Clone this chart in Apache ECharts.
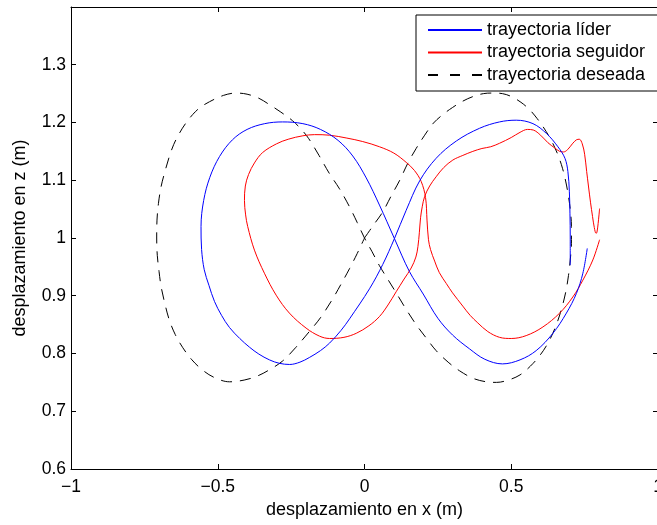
<!DOCTYPE html>
<html>
<head>
<meta charset="utf-8">
<script src="https://cdn.jsdelivr.net/npm/echarts@6/dist/echarts.min.js"></script>
<style>html,body{margin:0;padding:0;background:#fff;overflow:hidden}#c{width:690px;height:525px}</style>
</head>
<body>
<div id="c"></div>
<script>
// ---- data ----
const seriesNames = ['trayectoria líder', 'trayectoria seguidor', 'trayectoria deseada'];
const xTicks = [-1, -0.5, 0, 0.5, 1];
const zTicks = [0.6, 0.7, 0.8, 0.9, 1, 1.1, 1.2, 1.3, 1.4];

const liderX = [0.759, 0.744, 0.722, 0.688, 0.642, 0.585, 0.53, 0.47, 0.41, 0.358, 0.30, 0.25, 0.20, 0.153, 0.102, 0.051, 0.006, -0.04, -0.09, -0.15, -0.21, -0.279, -0.34, -0.40, -0.45, -0.494, -0.527, -0.548, -0.557, -0.555, -0.546, -0.53, -0.511, -0.487, -0.46, -0.425, -0.392, -0.36, -0.324, -0.29, -0.255, -0.22, -0.188, -0.15, -0.119, -0.08, -0.051, 0.017, 0.062, 0.102, 0.142, 0.188, 0.244, 0.313, 0.392, 0.46, 0.517, 0.574, 0.62, 0.659, 0.683, 0.693, 0.698, 0.700, 0.701, 0.701];
const liderZ = [0.982, 0.939, 0.904, 0.870, 0.835, 0.805, 0.789, 0.782, 0.790, 0.808, 0.832, 0.861, 0.903, 0.942, 0.999, 1.057, 1.104, 1.142, 1.169, 1.188, 1.198, 1.201, 1.198, 1.188, 1.170, 1.141, 1.105, 1.065, 1.020, 0.980, 0.945, 0.918, 0.890, 0.866, 0.845, 0.826, 0.811, 0.799, 0.789, 0.783, 0.781, 0.785, 0.793, 0.805, 0.818, 0.840, 0.860, 0.912, 0.954, 0.999, 1.048, 1.099, 1.138, 1.168, 1.190, 1.201, 1.204, 1.198, 1.181, 1.158, 1.138, 1.115, 1.080, 1.043, 1.000, 0.953];

const seguidorX = [0.801, 0.778, 0.744, 0.710, 0.665, 0.608, 0.551, 0.50, 0.46, 0.42, 0.386, 0.36, 0.335, 0.30, 0.279, 0.255, 0.239, 0.225, 0.218, 0.213, 0.208, 0.193, 0.17, 0.142, 0.10, 0.051, -0.006, -0.06, -0.119, -0.17, -0.21, -0.26, -0.30, -0.347, -0.375, -0.395, -0.406, -0.409, -0.405, -0.398, -0.375, -0.341, -0.301, -0.256, -0.199, -0.153, -0.119, -0.07, -0.028, 0.015, 0.051, 0.08, 0.108, 0.135, 0.159, 0.175, 0.182, 0.187, 0.191, 0.197, 0.205, 0.222, 0.244, 0.27, 0.301, 0.335, 0.369, 0.40, 0.43, 0.46, 0.50, 0.53, 0.555, 0.575, 0.60, 0.625, 0.648, 0.665, 0.678, 0.692, 0.708, 0.722, 0.732, 0.742, 0.75, 0.757, 0.763, 0.770, 0.777, 0.783, 0.789, 0.792, 0.796, 0.799, 0.801];
const seguidorZ = [0.997, 0.962, 0.927, 0.898, 0.870, 0.846, 0.831, 0.826, 0.828, 0.838, 0.853, 0.866, 0.882, 0.905, 0.921, 0.940, 0.960, 0.980, 0.997, 1.031, 1.070, 1.098, 1.117, 1.131, 1.147, 1.158, 1.167, 1.173, 1.178, 1.179, 1.177, 1.171, 1.163, 1.148, 1.130, 1.110, 1.090, 1.065, 1.040, 1.020, 0.979, 0.939, 0.901, 0.870, 0.844, 0.830, 0.826, 0.828, 0.835, 0.848, 0.864, 0.884, 0.907, 0.929, 0.948, 0.967, 0.985, 1.010, 1.035, 1.055, 1.072, 1.090, 1.106, 1.122, 1.135, 1.143, 1.150, 1.155, 1.158, 1.164, 1.174, 1.183, 1.188, 1.187, 1.178, 1.165, 1.156, 1.150, 1.149, 1.153, 1.163, 1.170, 1.171, 1.163, 1.145, 1.115, 1.090, 1.062, 1.037, 1.018, 1.008, 1.010, 1.025, 1.040, 1.051];

const deseadaX = [0, 0.03, 0.062, 0.09, 0.12, 0.148, 0.176, 0.205, 0.235, 0.27, 0.30, 0.335, 0.37, 0.405, 0.437, 0.47, 0.50, 0.533, 0.563, 0.588, 0.608, 0.63, 0.648, 0.662, 0.675, 0.686, 0.695, 0.702, 0.705, 0.705, 0.701, 0.695, 0.685, 0.67, 0.65, 0.625, 0.598, 0.565, 0.53, 0.49, 0.45, 0.415, 0.37, 0.324, 0.285, 0.244, 0.21, 0.176, 0.14, 0.108, 0.08, 0.051, 0.025, 0, -0.025, -0.051, -0.085, -0.12, -0.155, -0.19, -0.215, -0.245, -0.285, -0.324, -0.36, -0.40, -0.438, -0.48, -0.528, -0.56, -0.585, -0.61, -0.631, -0.65, -0.665, -0.68, -0.693, -0.702, -0.707, -0.708, -0.706, -0.70, -0.693, -0.68, -0.665, -0.645, -0.619, -0.588, -0.551, -0.51, -0.46, -0.41, -0.365, -0.32, -0.279, -0.235, -0.188, -0.15, -0.108, -0.08, -0.051, -0.025, 0];
const deseadaZ = [1.0, 1.022, 1.045, 1.072, 1.10, 1.13, 1.155, 1.178, 1.199, 1.215, 1.226, 1.237, 1.245, 1.25, 1.251, 1.25, 1.245, 1.235, 1.222, 1.207, 1.193, 1.175, 1.157, 1.14, 1.12, 1.097, 1.072, 1.045, 1.02, 0.99, 0.962, 0.935, 0.905, 0.875, 0.845, 0.818, 0.797, 0.778, 0.763, 0.754, 0.75, 0.751, 0.757, 0.770, 0.785, 0.805, 0.827, 0.85, 0.878, 0.905, 0.928, 0.952, 0.977, 1.0, 1.027, 1.054, 1.085, 1.112, 1.143, 1.172, 1.188, 1.203, 1.218, 1.231, 1.242, 1.249, 1.251, 1.247, 1.236, 1.226, 1.214, 1.198, 1.181, 1.162, 1.141, 1.115, 1.089, 1.06, 1.031, 1.0, 0.97, 0.942, 0.916, 0.886, 0.858, 0.833, 0.81, 0.789, 0.771, 0.758, 0.751, 0.754, 0.761, 0.773, 0.787, 0.81, 0.838, 0.862, 0.895, 0.92, 0.947, 0.973, 1.0];

// ---- build ----
const zip = (a, b) => a.map((v, i) => [v, b[i]]);
const FONT = 'Liberation Sans, Arial, Helvetica, sans-serif';
const fmt = v => (Math.round(v * 10) / 10).toString().replace('-', '\u2212');

const axisCommon = {
  type: 'value',
  axisLine: { show: true, onZero: false, lineStyle: { color: '#000', width: 1 } },
  axisTick: { show: true, inside: true, length: 5, lineStyle: { color: '#000', width: 1 } },
  splitLine: { show: false }
};

const chart = echarts.init(document.getElementById('c'), null, { renderer: 'canvas' });
chart.setOption({
  animation: false,
  backgroundColor: '#fff',
  grid: { left: 71, top: 7, width: 587, height: 462, containLabel: false },
  xAxis: [
    Object.assign({}, axisCommon, {
      position: 'bottom', min: xTicks[0], max: xTicks[xTicks.length - 1], interval: 0.5,
      axisLabel: { color: '#000', fontSize: 17.5, fontFamily: FONT, margin: 9, formatter: fmt, showMaxLabel: true },
      name: 'desplazamiento en x (m)', nameLocation: 'middle', nameGap: 29,
      nameTextStyle: { color: '#000', fontSize: 18, fontFamily: FONT }
    }),
    Object.assign({}, axisCommon, {
      position: 'top', min: xTicks[0], max: xTicks[xTicks.length - 1], interval: 0.5,
      axisLabel: { show: false }
    })
  ],
  yAxis: [
    Object.assign({}, axisCommon, {
      position: 'left', min: zTicks[0], max: zTicks[zTicks.length - 1], interval: 0.1,
      axisLabel: { color: '#000', fontSize: 17.5, fontFamily: FONT, margin: 5,
        formatter: v => (Math.abs(v - 1.4) < 1e-6 ? '' : fmt(v)) },
      name: 'desplazamiento en z (m)', nameLocation: 'middle', nameGap: 42,
      nameTextStyle: { color: '#000', fontSize: 18, fontFamily: FONT }
    }),
    Object.assign({}, axisCommon, {
      position: 'right', min: zTicks[0], max: zTicks[zTicks.length - 1], interval: 0.1,
      axisLabel: { show: false }
    })
  ],
  legend: {
    show: true, orient: 'vertical', left: 416, top: 15,
    itemWidth: 54, itemHeight: 14, itemGap: 4.5,
    padding: [6, 13, 7, 11],
    borderColor: '#000', borderWidth: 1, backgroundColor: '#fff',
    selectedMode: false,
    itemStyle: { color: 'rgba(0,0,0,0)', borderColor: 'rgba(0,0,0,0)', borderWidth: 0 },
    textStyle: { color: '#000', fontSize: 18, fontFamily: FONT },
    data: [
      { name: seriesNames[0] },
      { name: seriesNames[1] },
      { name: seriesNames[2], lineStyle: { type: [10, 12] } }
    ]
  },
  series: [
    { name: seriesNames[0], type: 'line', data: zip(liderX, liderZ), showSymbol: false, symbol: 'none',
      smooth: 0.35, lineStyle: { color: '#0000ff', width: 1 }, itemStyle: { color: '#0000ff' }, z: 3 },
    { name: seriesNames[1], type: 'line', data: zip(seguidorX, seguidorZ), showSymbol: false, symbol: 'none',
      smooth: 0.35, lineStyle: { color: '#ff0000', width: 1 }, itemStyle: { color: '#ff0000' }, z: 2 },
    { name: seriesNames[2], type: 'line', data: zip(deseadaX, deseadaZ), showSymbol: false, symbol: 'none',
      smooth: 0.35, lineStyle: { color: '#000', width: 1, type: [11, 8] }, itemStyle: { color: '#000' }, z: 1 }
  ]
});
</script>
</body>
</html>
